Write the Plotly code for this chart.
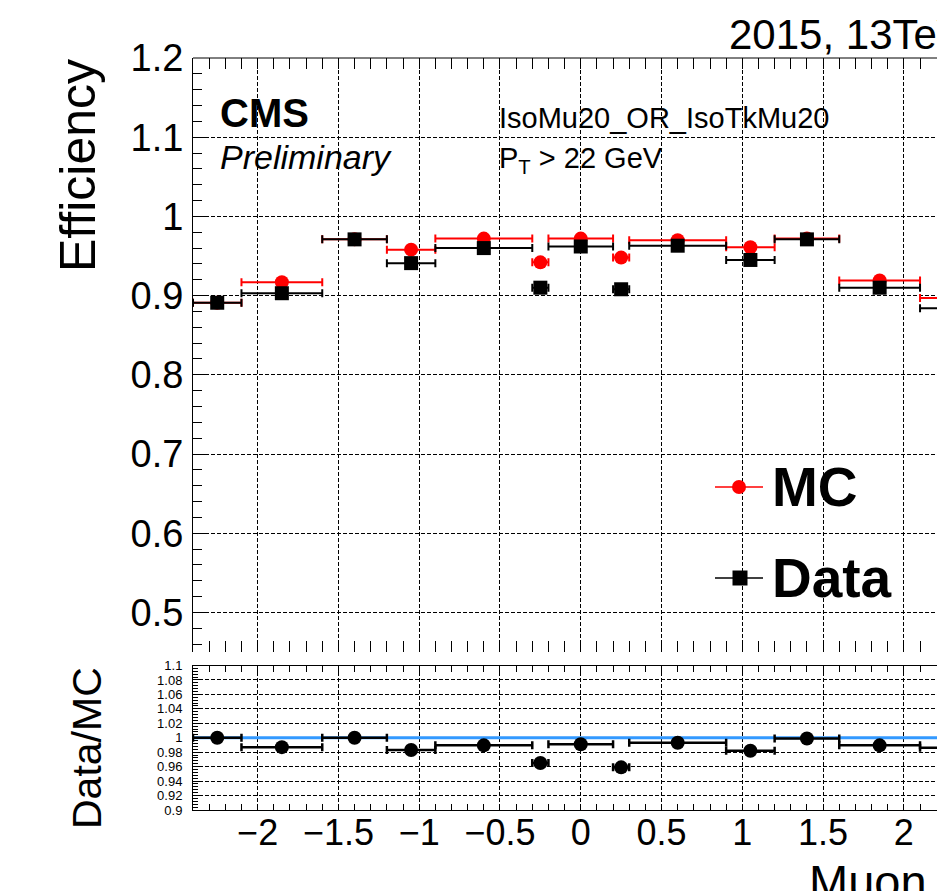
import plotly.graph_objects as go

# Muon eta binning and trigger efficiencies (IsoMu20 OR IsoTkMu20, pT > 22 GeV)
eta_edges = [-2.4, -2.1, -1.6, -1.2, -0.9, -0.3, -0.2, 0.2, 0.3, 0.9, 1.2, 1.6, 2.1, 2.4]
mc_eff = [0.891, 0.917, 0.971, 0.958, 0.972, 0.942, 0.972, 0.948, 0.970, 0.961, 0.972, 0.919, 0.897]
data_eff = [0.891, 0.903, 0.971, 0.941, 0.960, 0.910, 0.962, 0.908, 0.963, 0.945, 0.971, 0.910, 0.884]
ratio = [1.000, 0.987, 1.000, 0.983, 0.9895, 0.965, 0.991, 0.959, 0.993, 0.982, 0.999, 0.9895, 0.986]

ratio_ticks = [0.9, 0.92, 0.94, 0.96, 0.98, 1.0, 1.02, 1.04, 1.06, 1.08, 1.1]
ratio_ticktext = ["0.9", "0.92", "0.94", "0.96", "0.98", "1", "1.02", "1.04", "1.06", "1.08", "1.1"]

eta_centers = [(a + b) / 2 for a, b in zip(eta_edges[:-1], eta_edges[1:])]
eta_half = [(b - a) / 2 for a, b in zip(eta_edges[:-1], eta_edges[1:])]

W, H = 937, 891
ML, MR, MT, MB = 193, 0, 58, 81
PW, PH = W - ML - MR, H - MT - MB


def px(x):
    return (x - ML) / PW


def py(y):
    return (H - MB - y) / PH


FONT = "Liberation Sans, Arial, Helvetica, sans-serif"
XR = [-2.4, 2.205]
GRID = dict(showgrid=True, gridcolor="black", gridwidth=1, griddash="4px,2px")

fig = go.Figure()

fig.add_trace(go.Scatter(
    x=eta_centers, y=mc_eff, mode="markers", name="MC",
    marker=dict(symbol="circle", size=14, color="red"),
    error_x=dict(type="data", array=eta_half, color="red", thickness=2, width=4),
    xaxis="x", yaxis="y", showlegend=False, cliponaxis=True,
))
fig.add_trace(go.Scatter(
    x=eta_centers, y=data_eff, mode="markers", name="Data",
    marker=dict(symbol="square", size=14, color="black"),
    error_x=dict(type="data", array=eta_half, color="black", thickness=2, width=4),
    xaxis="x", yaxis="y", showlegend=False, cliponaxis=True,
))
fig.add_trace(go.Scatter(
    x=eta_centers, y=ratio, mode="markers", name="Data/MC",
    marker=dict(symbol="circle", size=14, color="black"),
    error_x=dict(type="data", array=eta_half, color="black", thickness=2.5, width=4),
    xaxis="x2", yaxis="y2", showlegend=False, cliponaxis=True,
))

main_dom = [py(652), 1.0]
ratio_dom = [0.0, py(665.5)]

fig.update_layout(
    width=W, height=H,
    margin=dict(l=ML, r=MR, t=MT, b=MB, pad=0),
    paper_bgcolor="white", plot_bgcolor="white",
    font=dict(family=FONT, color="black"),
    xaxis=dict(
        domain=[0, 1], anchor="y", range=XR, showticklabels=False,
        tick0=0, dtick=0.5, ticks="inside", ticklen=11, tickcolor="black", tickwidth=1,
        mirror="ticks", showline=False, zeroline=False,
        minor=dict(tick0=0, dtick=0.1, ticks="inside", ticklen=11, tickcolor="black", showgrid=False),
        **GRID,
    ),
    yaxis=dict(
        domain=main_dom, anchor="x", range=[0.45, 1.2],
        tick0=0, dtick=0.1, ticks="inside", ticklen=16, tickcolor="black", tickwidth=1,
        showline=True, linecolor="black", linewidth=1, mirror=False, zeroline=False,
        minor=dict(tick0=0, dtick=0.02, ticks="inside", ticklen=9, tickcolor="black", showgrid=False),
        tickfont=dict(size=38, family=FONT), ticklabelstandoff=1,
        **GRID,
    ),
    xaxis2=dict(
        domain=[0, 1], anchor="y2", range=XR,
        tick0=0, dtick=0.5, ticks="inside", ticklen=6, tickcolor="black", tickwidth=1,
        mirror="ticks", showline=True, linecolor="black", linewidth=1, zeroline=False,
        minor=dict(tick0=0, dtick=0.1, ticks="inside", ticklen=6, tickcolor="black", showgrid=False),
        tickfont=dict(size=36, family=FONT), ticklabelstandoff=-9,
        **GRID,
    ),
    yaxis2=dict(
        domain=ratio_dom, anchor="x2", range=[0.9, 1.1],
        tickvals=ratio_ticks, ticktext=ratio_ticktext,
        ticks="inside", ticklen=9, tickcolor="black", tickwidth=1,
        showline=True, linecolor="black", linewidth=1, mirror=False, zeroline=False,
        minor=dict(tick0=0, dtick=0.004, ticks="inside", ticklen=5, tickcolor="black", showgrid=False),
        tickfont=dict(size=13, family=FONT), ticklabelstandoff=7,
        **GRID,
    ),
)

shapes = [
    # top frame of the efficiency pad
    dict(type="line", xref="paper", yref="paper", x0=0, x1=1.1, y0=1, y1=1,
         line=dict(color="black", width=1)),
    # unity line of the ratio pad
    dict(type="line", xref="x2", yref="y2", x0=-2.4, x1=2.4, y0=1, y1=1,
         line=dict(color="#3399ff", width=3), layer="between"),
    # legend symbols
    dict(type="line", xref="paper", yref="paper", x0=px(715), x1=px(763), y0=py(487), y1=py(487),
         line=dict(color="red", width=1.5)),
    dict(type="circle", xref="paper", yref="paper", xsizemode="pixel", ysizemode="pixel",
         xanchor=px(739), yanchor=py(487), x0=-7, x1=7, y0=-7, y1=7,
         fillcolor="red", line=dict(color="red", width=0)),
    dict(type="line", xref="paper", yref="paper", x0=px(715), x1=px(763), y0=py(578), y1=py(578),
         line=dict(color="black", width=1.5)),
    dict(type="rect", xref="paper", yref="paper", xsizemode="pixel", ysizemode="pixel",
         xanchor=px(740), yanchor=py(578), x0=-7.5, x1=7.5, y0=-7.5, y1=7.5,
         fillcolor="black", line=dict(color="black", width=0)),
]
fig.update_layout(shapes=shapes)


def note(text, x, y, size, xanchor="left", yanchor="middle", angle=0, **kw):
    fig.add_annotation(
        text=text, xref="paper", yref="paper", x=px(x), y=py(y),
        xanchor=xanchor, yanchor=yanchor, showarrow=False, textangle=angle,
        font=dict(family=FONT, size=size, color="black", **kw),
    )


note("<b>CMS</b>", 218, 113, 40)
note("<i>Preliminary</i>", 218, 157, 34)
note("IsoMu20_OR_IsoTkMu20", 497, 118, 29)
note("P<sub>T</sub> &gt; 22 GeV", 497, 160, 29)
note("2015, 13TeV", 967, 34, 42, xanchor="right")
note("<b>MC</b>", 770, 487, 55)
note("<b>Data</b>", 770, 578, 55)
note("Efficiency", 78, 166, 50, xanchor="center", angle=-90)
note("Data/MC", 87, 748, 41, xanchor="center", angle=-90)
note("Muon η", 968, 881, 47, xanchor="right")

fig.write_html("out.html")
